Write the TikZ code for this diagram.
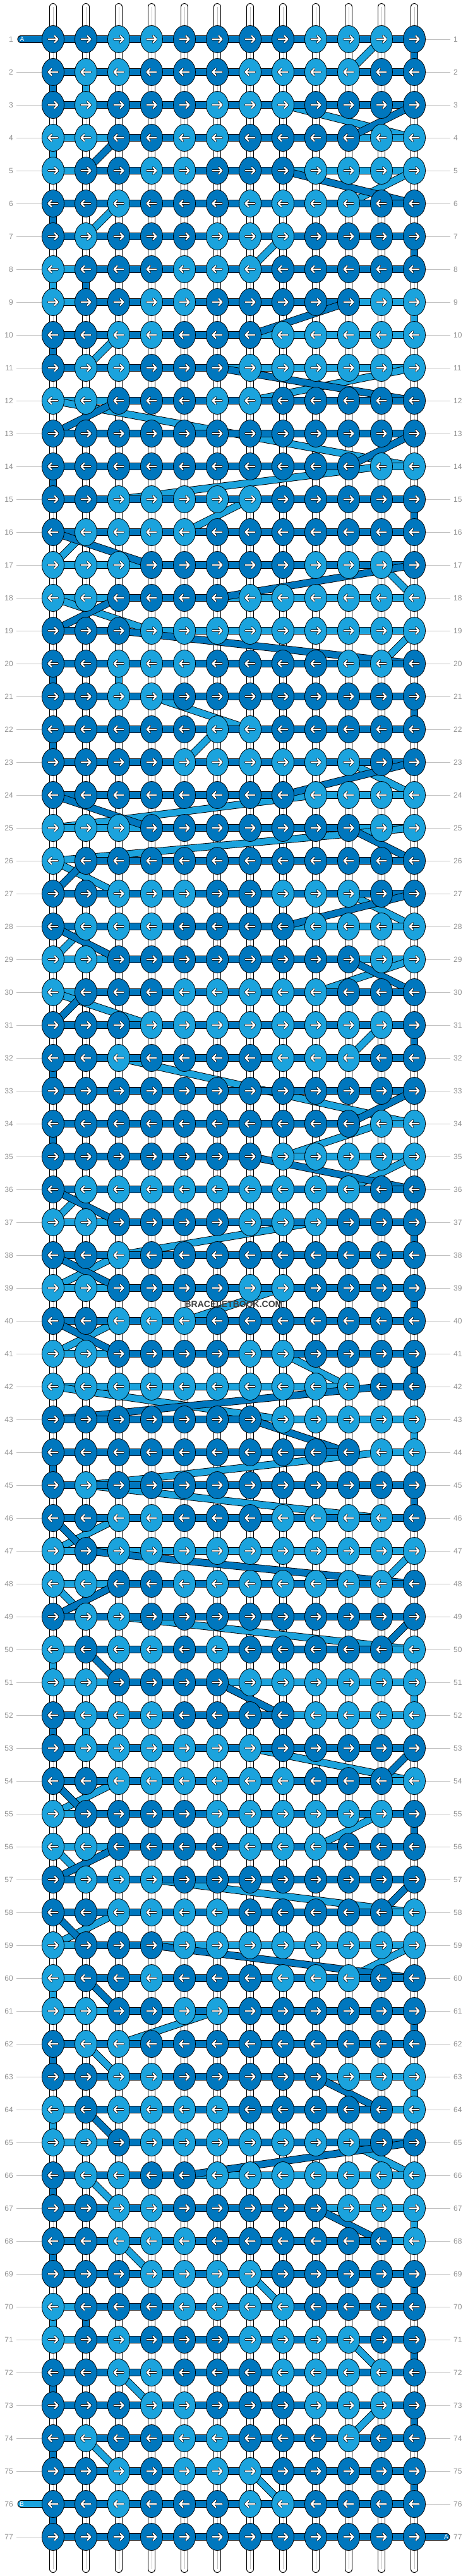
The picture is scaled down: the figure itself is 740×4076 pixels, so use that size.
\documentclass[tikz,border=0pt]{standalone}
\usepackage{fontspec}
\setmainfont{Liberation Sans}
\usepackage{xcolor}
\usetikzlibrary{shapes.geometric}

\definecolor{bleuA}{RGB}{0,119,190}
\definecolor{bleuB}{RGB}{27,163,221}
\definecolor{gristexte}{RGB}{145,145,145}
\definecolor{grisligne}{RGB}{192,192,192}

\tikzstyle{fil} = [line width = 0.9, double = white, double distance = 10, line cap = round]
\tikzstyle{milieu} = [line width = 0.8, color = grisligne]
\tikzstyle{filA} = [line width = 0.9, double = bleuA, double distance = 10, line cap = round]
\tikzstyle{filB} = [line width = 0.9, double = bleuB, double distance = 10, line cap = round]
\tikzstyle{noeud} = [ellipse, draw = black, line width = 0.8, minimum width = 35, minimum height = 43, inner sep = 0]
\tikzstyle{fleche} = [line width = 3.8, line cap = round, line join = round, color = black]
\tikzstyle{flecheblanche} = [line width = 2.4, line cap = round, line join = round, color = white]
\tikzset{etiquette/.style = {text = gristexte, inner sep = 0, font = \fontsize{12}{14}\selectfont},
    repere/.style = {line width = 0.9, color = grisligne},
    lettre/.style = {text = white, inner sep = 0, font = \fontsize{10}{10}\selectfont}}

% Grille des noeuds (D = fonce, L = clair)
\newcount\numcol
\def\garder#1{#1}
\def\jeter#1{}
\def\rangee#1#2{\global\numcol=0 \lirenoeud{#1}#2\relax}
\def\lirenoeud#1#2{\ifx\relax#2\expandafter\jeter\else\expandafter\garder\fi
    {\global\advance\numcol by 1
    \expandafter\xdef\csname kn-#1-\the\numcol\endcsname{#2}\lirenoeud{#1}}}

\rangee{1}{DDLLDDDDLLLD}
\rangee{2}{DLLDDDLLLLDD}
\rangee{3}{DLDDDLLLDDDD}
\rangee{4}{LLDDLLDDDDLL}
\rangee{5}{LDDLLDDDLLLL}
\rangee{6}{DDLDDDLLLLDD}
\rangee{7}{DLDDDLLLDDDD}
\rangee{8}{LDDDLLLDDDDD}
\rangee{9}{LDDLLDDDDDLL}
\rangee{10}{DDLLDDDLLLLL}
\rangee{11}{DLLDDDLLLLLL}
\rangee{12}{LLDDDLLDDDDD}
\rangee{13}{DDDDDDDDDDDD}
\rangee{14}{DDDDDDDDDDLL}
\rangee{15}{DDLLLLLDDDDD}
\rangee{16}{DLLLLDDDDDDD}
\rangee{17}{LLLDDDDDLLLD}
\rangee{18}{LLDDDDLLLLLL}
\rangee{19}{DDDLLLLLLLLL}
\rangee{20}{DDLLLDDDDLLD}
\rangee{21}{DDLLDDDDDDDD}
\rangee{22}{DDDDDLLDDDDD}
\rangee{23}{DDDDLLLLLLDD}
\rangee{24}{DDDDDDDDLLLL}
\rangee{25}{LLLDDDDDDDLL}
\rangee{26}{LDDDDDDDDDDD}
\rangee{27}{DDLLLDDLLLDD}
\rangee{28}{DLLLDDDDLLLL}
\rangee{29}{LLDDDDDDDDLL}
\rangee{30}{LDDDLLLLLDDD}
\rangee{31}{DDDLLLLLLLLD}
\rangee{32}{DDLDDDDLLLDD}
\rangee{33}{DDDDDDDDDDDD}
\rangee{34}{DDDDDDDDDDLL}
\rangee{35}{DDDDDDDLLLLL}
\rangee{36}{DLLLLLLLLLDD}
\rangee{37}{LLDDDDLLLDDD}
\rangee{38}{DDLDDDDDDDDD}
\rangee{39}{LLDDDDLLDDDD}
\rangee{40}{DDLLLDDDDDDD}
\rangee{41}{LLDDDDLLDDDD}
\rangee{42}{LLLLLLLLLLDD}
\rangee{43}{DDDDDDDLLLLL}
\rangee{44}{DDDDDDDDDDLL}
\rangee{45}{DLDDDDDDDDDD}
\rangee{46}{DDLLDDDLLLLD}
\rangee{47}{LDLLLLLLLLLL}
\rangee{48}{LLDDLLLLLLLD}
\rangee{49}{DLLDDDDDDDDD}
\rangee{50}{LDLLDLDDDDDL}
\rangee{51}{LLDDDDLLLLLL}
\rangee{52}{DLLLDDDDLLLL}
\rangee{53}{DLLLLLLDDDDD}
\rangee{54}{DDLLLLLLDDDL}
\rangee{55}{LDDDDLLLLLLD}
\rangee{56}{LLDDDDLLLDDD}
\rangee{57}{DLLLDDDDDDDD}
\rangee{58}{DDLLLLDDDDDL}
\rangee{59}{LDDDLLLLLLLL}
\rangee{60}{LDDLDDDLLLDD}
\rangee{61}{LLDDLLDDDDDD}
\rangee{62}{DLLDDDDDDDDD}
\rangee{63}{DDLLDDDDDLLL}
\rangee{64}{LDLLLLDDDDDL}
\rangee{65}{LLDLLLLLLLDD}
\rangee{66}{DLLDDLLLLLLL}
\rangee{67}{DDLLDDDDDLLL}
\rangee{68}{DDLLLDDDDDDL}
\rangee{69}{DDDLLLLDDDDD}
\rangee{70}{LDDDLLLLDDDD}
\rangee{71}{LDLDDDLLLLDD}
\rangee{72}{DDLLDDDLLLLD}
\rangee{73}{DDDLLDDDLLLD}
\rangee{74}{DLDDLLDDDLDD}
\rangee{75}{DDLDLLLDDDDD}
\rangee{76}{DDLDDDLLDDDD}
\rangee{77}{DDDDDDDDDDDD}

\begin{document}
\begin{tikzpicture}[x = 1pt, y = -1pt]
    \useasboundingbox (0, 0) rectangle (740, 4076);
    % Positions des noeuds
    \foreach \r in {1, ..., 77}
        \foreach \c in {1, ..., 12}
            \coordinate (p-\r-\c) at ({84 + 52*(\c - 1)}, {62 + 52*(\r - 1)});
    \coordinate (debutA) at (33.5, 62);
    \coordinate (finA) at (706.5, 4014);
    \coordinate (finB) at (33.5, 3962);
    % Fils verticaux
    \foreach \c in {1, ..., 12} {
        \coordinate (haut-\c) at ({84 + 52*(\c - 1)}, 11);
        \coordinate (bas-\c) at ({84 + 52*(\c - 1)}, 4065);
        \draw[fil] (haut-\c) -- (bas-\c);
        \draw[milieu] (haut-\c) -- (bas-\c);
    }
    % Fil B (clair)
    \gdef\dernier{debutA}
    \foreach \r in {1, ..., 77}
        \foreach \k in {1, ..., 12} {
            \pgfmathtruncatemacro\c{mod(\r, 2) == 1 ? \k : 13 - \k}
            \edef\kc{\csname kn-\r-\c\endcsname}
            \if L\kc
                \draw[filB] (\dernier) -- (p-\r-\c);
                \xdef\dernier{p-\r-\c}
            \fi
        }
    \draw[filB] (\dernier) -- (finB);
    % Fil A (fonce)
    \gdef\dernier{debutA}
    \foreach \r in {1, ..., 77}
        \foreach \k in {1, ..., 12} {
            \pgfmathtruncatemacro\c{mod(\r, 2) == 1 ? \k : 13 - \k}
            \edef\kc{\csname kn-\r-\c\endcsname}
            \if D\kc
                \draw[filA] (\dernier) -- (p-\r-\c);
                \xdef\dernier{p-\r-\c}
            \fi
        }
    \draw[filA] (\dernier) -- (finA);
    % Noeuds et fleches
    \foreach \r in {1, ..., 77}
        \foreach \c in {1, ..., 12} {
            \edef\kc{\csname kn-\r-\c\endcsname}
            \if L\kc \def\teinte{bleuB}\else \def\teinte{bleuA}\fi
            \pgfmathtruncatemacro\sens{mod(\r, 2) == 1 ? 1 : -1}
            \node[noeud, fill = \teinte] (k-\r-\c) at (p-\r-\c) {};
            \draw[fleche, shift = {(p-\r-\c)}, xscale = \sens] (-7.5, 0) -- (7, 0) (2.5, -5) -- (7.5, 0) -- (2.5, 5);
            \draw[flecheblanche, shift = {(p-\r-\c)}, xscale = \sens] (-7.5, 0) -- (7, 0) (2.5, -5) -- (7.5, 0) -- (2.5, 5);
        }
    % Numeros des rangs
    \foreach \r in {1, ..., 77} {
        \node[etiquette, anchor = east] (g-\r) at (21, {62 + 52*(\r - 1)}) {\r};
        \node[etiquette, anchor = west] (d-\r) at (718, {62 + 52*(\r - 1)}) {\r};
    }
    \foreach \r in {2, ..., 75, 77}
        \draw[repere] ([xshift = 5]g-\r.east) -- (k-\r-1.west);
    \foreach \r in {1, ..., 76}
        \draw[repere] (k-\r-12.east) -- ([xshift = -5]d-\r.west);
    % Lettres des fils
    \node[lettre] (lettreA) at (35, 62) {A};
    \node[lettre] (lettreB) at (34.5, 3962) {B};
    \node[lettre] (lettreA2) at (706.5, 4014) {A};
    % Filigrane
    \node[text = black!75, inner sep = 0, font = \bfseries\fontsize{14}{14}\selectfont] (marque) at (370, 2064) {BRACELETBOOK.COM};
\end{tikzpicture}
\end{document}
